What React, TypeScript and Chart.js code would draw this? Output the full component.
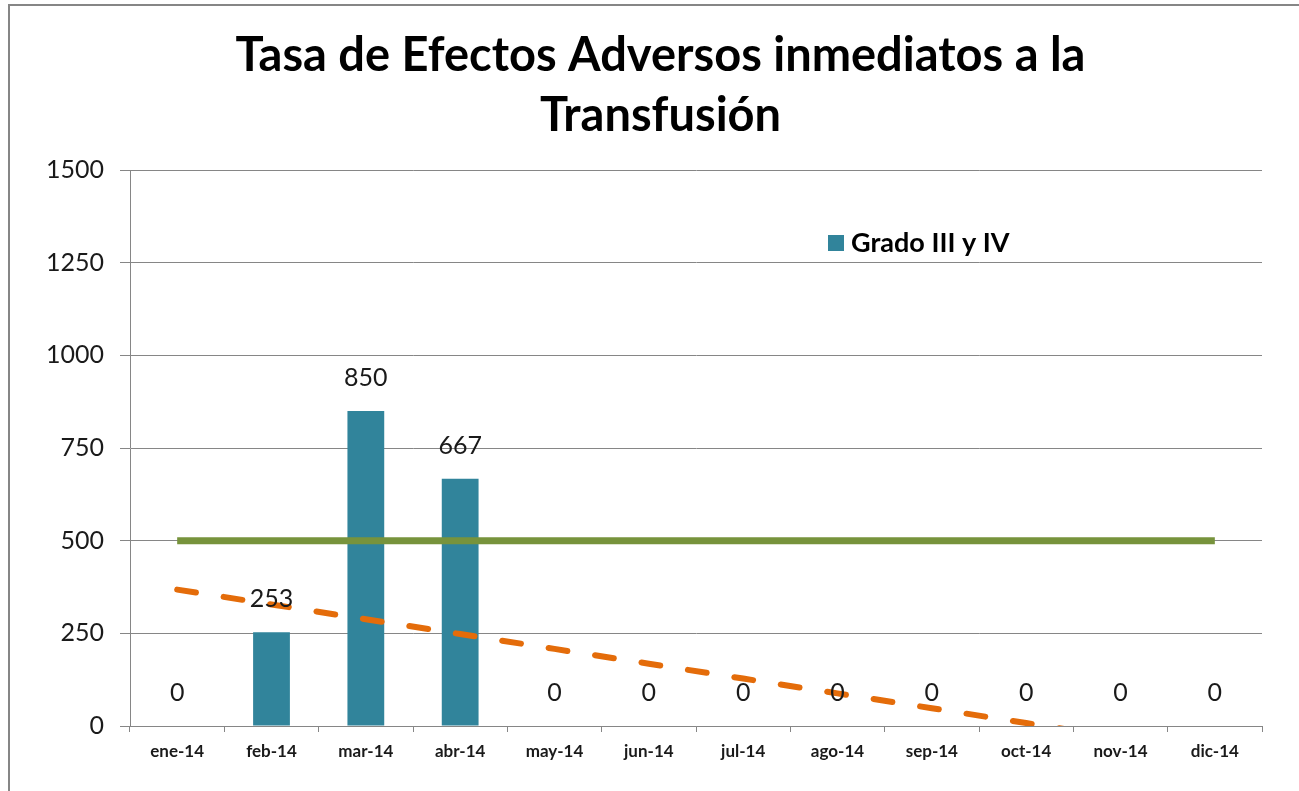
import { useEffect, useRef } from "react";
import { Chart, registerables } from "chart.js";

Chart.register(...registerables);

const months = ["ene-14", "feb-14", "mar-14", "abr-14", "may-14", "jun-14", "jul-14", "ago-14", "sep-14", "oct-14", "nov-14", "dic-14"];
const gradoIIIyIV = [0, 253, 850, 667, 0, 0, 0, 0, 0, 0, 0, 0];
const meta = [500, 500, 500, 500, 500, 500, 500, 500, 500, 500, 500, 500];
const tendencia = [368, 328, 288, 248, 208, 168, 128, 88, 48, 8, -32, -72];
const yMin = 0;
const yMax = 1500;
const yStep = 250;
const titleLines = ["Tasa de Efectos Adversos inmediatos a la", "Transfusión"];
const legendLabel = "Grado III y IV";

const BAR_COLOR = "#31849B";
const GREEN = "#77933C";
const ORANGE = "#E46C0A";
const GRID = "#868686";
const FONT = "Lato, 'Open Sans', sans-serif";

const chartTitle = {
  id: "chartTitle",
  afterDraw(chart: any) {
    const ctx = chart.ctx;
    ctx.save();
    ctx.font = `bold 47px ${FONT}`;
    ctx.fillStyle = "#000";
    ctx.textAlign = "center";
    ctx.textBaseline = "middle";
    const cx = chart.width / 2 + 6;
    titleLines.forEach((line, i) => {
      ctx.fillText(line, cx, 50 + i * 60);
    });
    ctx.restore();
  },
};

const valueLabels = {
  id: "valueLabels",
  afterDatasetsDraw(chart: any) {
    const ctx = chart.ctx;
    const m = chart.getDatasetMeta(0);
    ctx.save();
    ctx.font = `25px ${FONT}`;
    ctx.fillStyle = "#1a1a1a";
    ctx.textAlign = "center";
    ctx.textBaseline = "middle";
    m.data.forEach((el: any, i: number) => {
      ctx.fillText(String(chart.data.datasets[0].data[i]), el.x, el.y - 33);
    });
    ctx.restore();
  },
};

const innerLegend = {
  id: "innerLegend",
  afterDraw(chart: any) {
    const ctx = chart.ctx;
    const a = chart.chartArea;
    const x = a.left + 698;
    const y = a.top + 73;
    ctx.save();
    ctx.fillStyle = chart.data.datasets[0].backgroundColor;
    ctx.fillRect(x, y - 8, 16, 16);
    ctx.font = `bold 27px ${FONT}`;
    ctx.fillStyle = "#000";
    ctx.textAlign = "left";
    ctx.textBaseline = "middle";
    ctx.fillText(legendLabel, x + 23, y);
    ctx.restore();
  },
};

export default function App() {
  const ref = useRef<HTMLCanvasElement>(null);
  useEffect(() => {
    if (!ref.current) return;
    const chart = new Chart(ref.current, {
      type: "bar",
      data: {
        labels: months,
        datasets: [
          {
            type: "bar",
            label: legendLabel,
            data: gradoIIIyIV,
            backgroundColor: BAR_COLOR,
            barPercentage: 0.39,
            categoryPercentage: 1,
            order: 3,
          },
          {
            type: "line",
            label: "Meta",
            data: meta,
            borderColor: GREEN,
            borderWidth: 7,
            pointRadius: 0,
            fill: false,
            order: 2,
          },
          {
            type: "line",
            label: "Lineal (Grado III y IV)",
            data: tendencia,
            borderColor: ORANGE,
            borderWidth: 6,
            borderDash: [19, 28],
            borderCapStyle: "round",
            pointRadius: 0,
            fill: false,
            clip: 0,
            order: 1,
          },
        ] as any,
      },
      options: {
        animation: false,
        responsive: false,
        maintainAspectRatio: false,
        layout: { padding: { left: 0, right: 37, top: 164, bottom: 0 } },
        plugins: {
          legend: { display: false },
          tooltip: { enabled: false },
          title: { display: false },
        },
        scales: {
          x: {
            grid: { display: true, drawOnChartArea: false, offset: true, tickLength: 6, color: GRID },
            border: { color: GRID, width: 1 },
            ticks: { color: "#1a1a1a", font: { family: FONT, size: 17, weight: "bold" }, padding: 9, maxRotation: 0 },
            afterFit: (s: any) => {
              s.height = 65;
            },
          },
          y: {
            min: yMin,
            max: yMax,
            ticks: {
              stepSize: yStep,
              color: "#1a1a1a",
              font: { family: FONT, size: 25 },
              padding: 16,
              callback: (v: any) => String(v),
            },
            grid: { color: GRID, lineWidth: 1, tickLength: 10 },
            border: { color: GRID, width: 1 },
            afterFit: (s: any) => {
              s.width = 120;
            },
          },
        },
      },
      plugins: [chartTitle, valueLabels, innerLegend],
    });
    return () => chart.destroy();
  }, []);

  return (
    <div
      style={{
        position: "absolute",
        left: 8,
        top: 4,
        width: 1291,
        height: 787,
        boxSizing: "border-box",
        borderLeft: `2px solid ${GRID}`,
        borderTop: `2px solid ${GRID}`,
        background: "#fff",
        overflow: "hidden",
      }}
    >
      <canvas ref={ref} width={1289} height={785} style={{ display: "block" }} />
    </div>
  );
}
